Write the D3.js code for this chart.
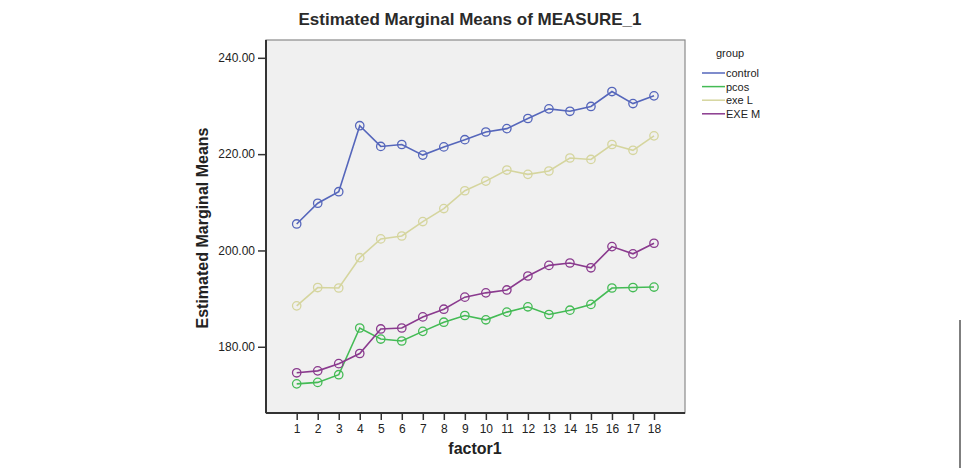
<!DOCTYPE html>
<html>
<head>
<meta charset="utf-8">
<style>
  body { margin: 0; background: #fff; }
  svg { display: block; font-family: "Liberation Sans", Arial, sans-serif; }
</style>
</head>
<body>
<svg id="chart"></svg>
<script src="https://cdn.jsdelivr.net/npm/d3@7"></script>
<script>
// data
var factor1 = [1, 2, 3, 4, 5, 6, 7, 8, 9, 10, 11, 12, 13, 14, 15, 16, 17, 18]
var groups = ['control', 'pcos', 'exe L', 'EXE M']
var control = [205.5, 209.8, 212.2, 225.9, 221.6, 222.0, 219.8, 221.5, 223.0, 224.6, 225.3, 227.4, 229.4, 228.9, 229.9, 233.0, 230.5, 232.1]
var pcos = [172.3, 172.6, 174.2, 183.9, 181.6, 181.2, 183.2, 185.1, 186.5, 185.6, 187.2, 188.3, 186.7, 187.6, 188.8, 192.2, 192.3, 192.4]
var exeL = [188.5, 192.3, 192.2, 198.5, 202.4, 203.0, 206.0, 208.7, 212.4, 214.4, 216.7, 215.8, 216.5, 219.2, 218.9, 222.0, 220.8, 223.8]
var exeM = [174.6, 175.0, 176.5, 178.6, 183.7, 183.9, 186.2, 187.8, 190.3, 191.2, 191.8, 194.7, 196.9, 197.4, 196.4, 200.8, 199.3, 201.5]
var yTicks = [180, 200, 220, 240]
var colors = ['#5566bb', '#44bb55', '#d5d59e', '#8a3a8e']

var width = 967, height = 468
var series = [control, pcos, exeL, exeM]

var svg = d3.select('#chart').attr('width', width).attr('height', height)

// plot frame (window.top is taken, so use other names)
var plotL = 266, plotR = 685, plotT = 40, plotB = 413

var x = d3.scaleLinear().domain([1, 18]).range([296.7, 654])
var y = d3.scaleLinear().domain([166.25, 243.7]).range([plotB, plotT])

svg.append('rect')
    .attr('x', plotL).attr('y', plotT)
    .attr('width', plotR - plotL).attr('height', plotB - plotT)
    .attr('fill', '#f0f0f0')
    .attr('stroke', '#8a8a8a').attr('stroke-width', 1.2)

// axes
var yAxis = d3.axisLeft(y).tickValues(yTicks).tickSize(8).tickFormat(d3.format('.2f'))
var gy = svg.append('g').attr('transform', 'translate(' + plotL + ',0)').call(yAxis)
gy.select('.domain').attr('d', 'M0,' + plotT + 'V' + plotB).attr('stroke', '#333').attr('stroke-width', 2)
gy.selectAll('.tick line').attr('stroke', '#333').attr('stroke-width', 1.5)
gy.selectAll('.tick text').attr('font-size', 12).attr('fill', '#222').attr('x', -11)
    .attr('font-family', '"Liberation Sans", Arial, sans-serif')

var xAxis = d3.axisBottom(x).tickValues(factor1).tickSize(7).tickFormat(d3.format('d'))
var gx = svg.append('g').attr('transform', 'translate(0,' + plotB + ')').call(xAxis)
gx.select('.domain').attr('d', 'M' + plotL + ',0H' + plotR).attr('stroke', '#333').attr('stroke-width', 2)
gx.selectAll('.tick line').attr('stroke', '#333').attr('stroke-width', 1.5)
gx.selectAll('.tick text').attr('font-size', 12).attr('fill', '#222').attr('y', 11)
    .attr('font-family', '"Liberation Sans", Arial, sans-serif')

// lines and markers
var line = d3.line().x(function(d, i) { return x(factor1[i]) }).y(function(d) { return y(d) })

series.forEach(function(s, k) {
    svg.append('path')
        .attr('d', line(s))
        .attr('fill', 'none')
        .attr('stroke', colors[k])
        .attr('stroke-width', 1.6)
    svg.append('g').selectAll('circle')
        .data(s)
        .enter()
        .append('circle')
        .attr('cx', function(d, i) { return x(factor1[i]) })
        .attr('cy', function(d) { return y(d) })
        .attr('r', 4.2)
        .attr('fill', 'none')
        .attr('stroke', colors[k])
        .attr('stroke-width', 1.3)
})

// title and axis labels
svg.append('text')
    .attr('x', 470).attr('y', 25)
    .attr('text-anchor', 'middle')
    .attr('font-size', 17).attr('font-weight', 'bold').attr('fill', '#2a2a2a')
    .text('Estimated Marginal Means of MEASURE_1')

svg.append('text')
    .attr('transform', 'translate(208,228) rotate(-90)')
    .attr('text-anchor', 'middle')
    .attr('font-size', 16).attr('font-weight', 'bold').attr('fill', '#222')
    .text('Estimated Marginal Means')

svg.append('text')
    .attr('x', 475).attr('y', 454)
    .attr('text-anchor', 'middle')
    .attr('font-size', 16).attr('font-weight', 'bold').attr('fill', '#222')
    .text('factor1')

// legend
svg.append('text')
    .attr('x', 716).attr('y', 57)
    .attr('font-size', 11).attr('fill', '#222')
    .text('group')

var legend = svg.append('g').selectAll('g')
    .data(groups)
    .enter()
    .append('g')
    .attr('transform', function(d, i) { return 'translate(702,' + (73 + i * 13.6) + ')' })

legend.append('line')
    .attr('x1', 0).attr('x2', 23)
    .attr('stroke', function(d, i) { return colors[i] })
    .attr('stroke-width', 1.5)
legend.append('text')
    .attr('x', 24).attr('y', 4)
    .attr('font-size', 11).attr('fill', '#222')
    .text(function(d) { return d })

// page edge line at lower right
svg.append('line')
    .attr('x1', 960).attr('x2', 960).attr('y1', 320).attr('y2', height)
    .attr('stroke', '#555').attr('stroke-width', 1.5)
</script>
</body>
</html>
